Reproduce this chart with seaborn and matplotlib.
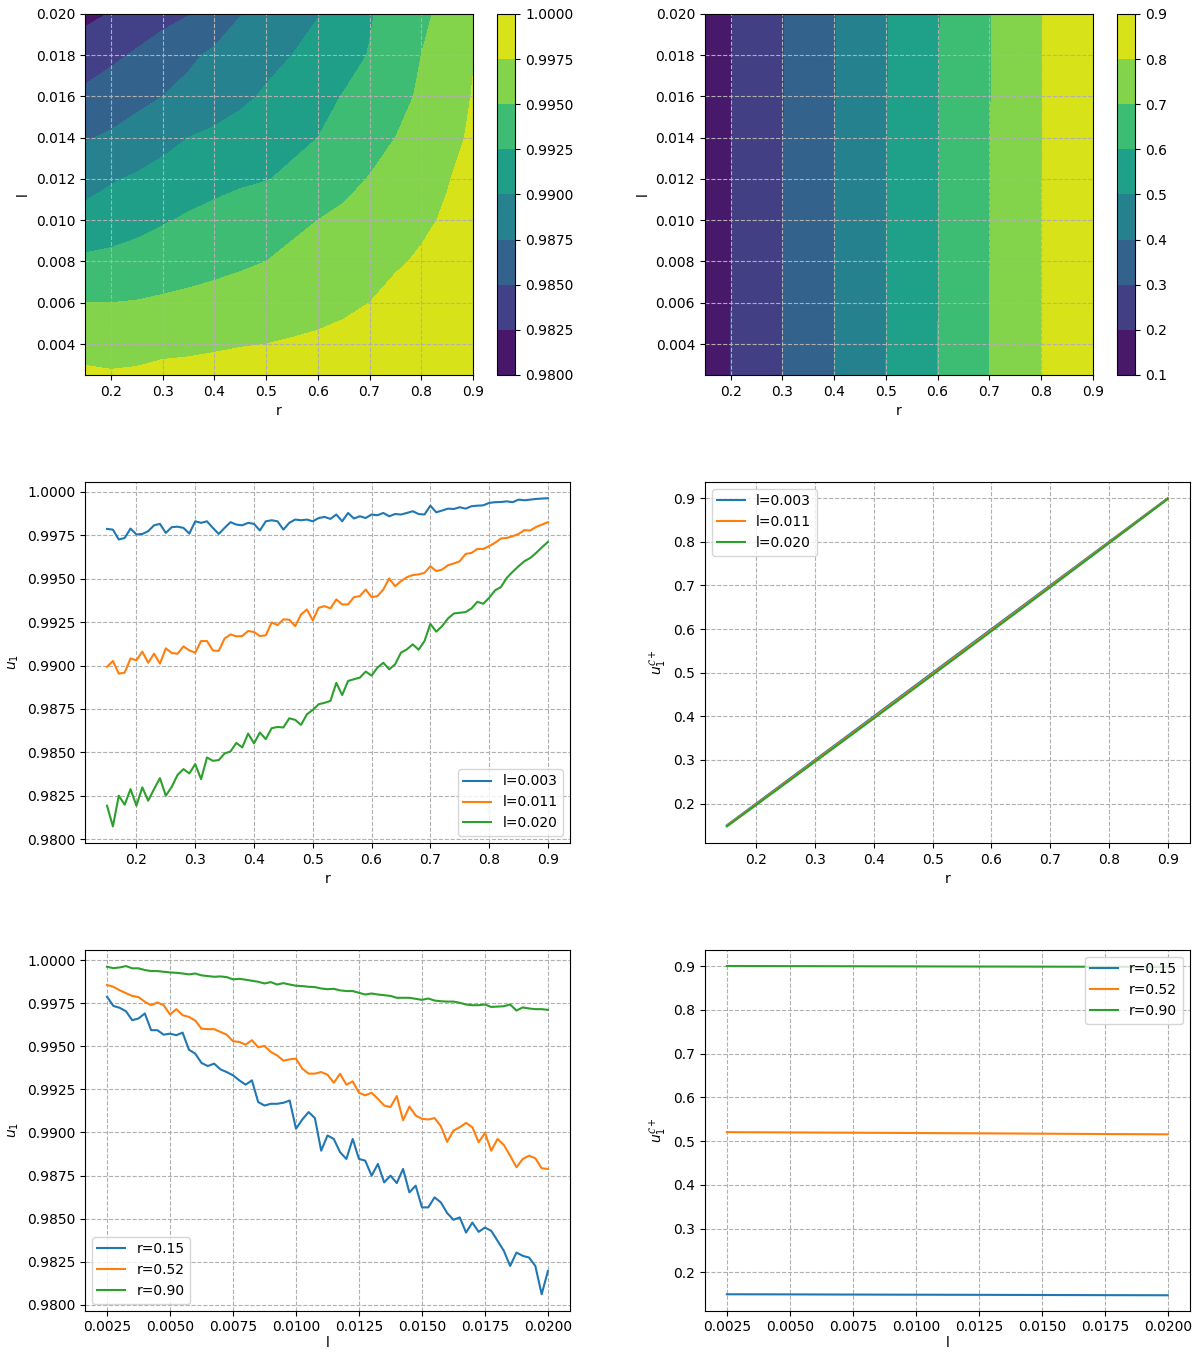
import numpy as np
import pandas as pd
import matplotlib
matplotlib.use("Agg")
import matplotlib.pyplot as plt
import seaborn as sns

# ---------------- data ----------------
# contour grid (top-left): u1 over (r, l)
r_grid = [0.15, 0.20, 0.25, 0.30, 0.35, 0.40, 0.45, 0.50, 0.55, 0.60,
          0.65, 0.70, 0.75, 0.80, 0.85, 0.90]
l_grid = [0.0025, 0.004, 0.006, 0.008, 0.010, 0.012, 0.014, 0.016, 0.018, 0.020]
u1_row_00250 = [0.9979, 0.9977, 0.9978, 0.9982, 0.9982, 0.9983, 0.9983, 0.9985, 0.9986, 0.9988, 0.9989, 0.9991, 0.9992, 0.9994, 0.9995, 0.9996]
u1_row_00400 = [0.9966, 0.9966, 0.9967, 0.9968, 0.9970, 0.9972, 0.9974, 0.9975, 0.9977, 0.9979, 0.9981, 0.9984, 0.9986, 0.9989, 0.9991, 0.9994]
u1_row_00600 = [0.9950, 0.9950, 0.9951, 0.9953, 0.9955, 0.9957, 0.9959, 0.9961, 0.9964, 0.9967, 0.9971, 0.9975, 0.9980, 0.9984, 0.9988, 0.9991]
u1_row_00800 = [0.9930, 0.9932, 0.9935, 0.9938, 0.9941, 0.9944, 0.9947, 0.9950, 0.9954, 0.9958, 0.9963, 0.9968, 0.9973, 0.9977, 0.9982, 0.9988]
u1_row_01000 = [0.9906, 0.9911, 0.9917, 0.9923, 0.9928, 0.9933, 0.9938, 0.9942, 0.9946, 0.9950, 0.9955, 0.9961, 0.9966, 0.9972, 0.9977, 0.9984]
u1_row_01200 = [0.9893, 0.9898, 0.9903, 0.9908, 0.9913, 0.9917, 0.9921, 0.9924, 0.9929, 0.9935, 0.9943, 0.9951, 0.9959, 0.9967, 0.9974, 0.9981]
u1_row_01400 = [0.9873, 0.9878, 0.9884, 0.9893, 0.9900, 0.9905, 0.9910, 0.9915, 0.9920, 0.9925, 0.9933, 0.9941, 0.9950, 0.9960, 0.9969, 0.9978]
u1_row_01600 = [0.9855, 0.9862, 0.9869, 0.9875, 0.9881, 0.9887, 0.9895, 0.9903, 0.9910, 0.9918, 0.9926, 0.9934, 0.9943, 0.9953, 0.9964, 0.9976]
u1_row_01800 = [0.9838, 0.9845, 0.9853, 0.9862, 0.9871, 0.9879, 0.9887, 0.9893, 0.9900, 0.9908, 0.9917, 0.9926, 0.9936, 0.9950, 0.9962, 0.9974]
u1_row_02000 = [0.9819, 0.9826, 0.9835, 0.9842, 0.9849, 0.9860, 0.9874, 0.9882, 0.9890, 0.9899, 0.9910, 0.9923, 0.9934, 0.9945, 0.9957, 0.9971]
u1_levels = [0.9800, 0.9825, 0.9850, 0.9875, 0.9900, 0.9925, 0.9950, 0.9975, 1.0000]

# u1^C+ versus r (middle-right) -- also used for the top-right contour
uc_r = r_grid
uc_l003 = [0.1500, 0.2000, 0.2500, 0.3000, 0.3500, 0.4000, 0.4500, 0.5000, 0.5500, 0.6000, 0.6500, 0.7000, 0.7500, 0.8000, 0.8500, 0.9000]
uc_l011 = [0.1488, 0.1984, 0.2481, 0.2979, 0.3477, 0.3976, 0.4475, 0.4975, 0.5475, 0.5976, 0.6477, 0.6979, 0.7481, 0.7984, 0.8488, 0.8991]
uc_l020 = [0.1475, 0.1968, 0.2463, 0.2958, 0.3455, 0.3952, 0.4450, 0.4950, 0.5450, 0.5952, 0.6455, 0.6958, 0.7463, 0.7968, 0.8475, 0.8982]
uc_contour_l = [0.0025, 0.011, 0.020]
uc_levels = [0.1, 0.2, 0.3, 0.4, 0.5, 0.6, 0.7, 0.8, 0.9]

# u1 versus r (middle-left), r = 0.15 .. 0.90 step 0.01
r_line = [round(0.15 + 0.01 * i, 2) for i in range(76)]
u1_l003 = [0.99787, 0.99783, 0.99726, 0.99735, 0.99789, 0.99755, 0.99758, 0.99774, 0.99808, 0.99816,
           0.99764, 0.99797, 0.99800, 0.99793, 0.99760, 0.99831, 0.99822, 0.99831, 0.99793, 0.99758,
           0.99793, 0.99826, 0.99812, 0.99808, 0.99822, 0.99816, 0.99778, 0.99831, 0.99837, 0.99831,
           0.99783, 0.99822, 0.99841, 0.99837, 0.99841, 0.99831, 0.99850, 0.99856, 0.99845, 0.99870,
           0.99831, 0.99879, 0.99847, 0.99860, 0.99850, 0.99870, 0.99866, 0.99879, 0.99860, 0.99873,
           0.99870, 0.99879, 0.99889, 0.99873, 0.99870, 0.99921, 0.99883, 0.99893, 0.99904, 0.99902,
           0.99912, 0.99904, 0.99918, 0.99921, 0.99923, 0.99937, 0.99941, 0.99942, 0.99946, 0.99941,
           0.99956, 0.99952, 0.99956, 0.99960, 0.99962, 0.99964]
u1_l011 = [0.98993, 0.99026, 0.98953, 0.98959, 0.99041, 0.99030, 0.99080, 0.99016, 0.99068, 0.99011,
           0.99099, 0.99072, 0.99068, 0.99110, 0.99087, 0.99074, 0.99141, 0.99141, 0.99087, 0.99084,
           0.99156, 0.99179, 0.99168, 0.99170, 0.99199, 0.99193, 0.99170, 0.99174, 0.99248, 0.99233,
           0.99266, 0.99264, 0.99227, 0.99294, 0.99323, 0.99260, 0.99333, 0.99342, 0.99329, 0.99381,
           0.99352, 0.99352, 0.99394, 0.99400, 0.99438, 0.99394, 0.99400, 0.99438, 0.99502, 0.99457,
           0.99486, 0.99509, 0.99521, 0.99525, 0.99534, 0.99572, 0.99544, 0.99553, 0.99578, 0.99588,
           0.99601, 0.99643, 0.99649, 0.99672, 0.99672, 0.99688, 0.99707, 0.99732, 0.99735, 0.99745,
           0.99758, 0.99780, 0.99778, 0.99799, 0.99812, 0.99826]
u1_l020 = [0.98192, 0.98073, 0.98250, 0.98198, 0.98288, 0.98192, 0.98298, 0.98221, 0.98288, 0.98351,
           0.98250, 0.98301, 0.98370, 0.98403, 0.98378, 0.98432, 0.98345, 0.98470, 0.98451, 0.98455,
           0.98493, 0.98505, 0.98554, 0.98528, 0.98608, 0.98551, 0.98614, 0.98576, 0.98639, 0.98646,
           0.98643, 0.98696, 0.98687, 0.98658, 0.98719, 0.98744, 0.98777, 0.98785, 0.98796, 0.98900,
           0.98830, 0.98911, 0.98921, 0.98930, 0.98965, 0.98942, 0.98988, 0.99016, 0.98978, 0.99007,
           0.99074, 0.99093, 0.99122, 0.99091, 0.99141, 0.99240, 0.99195, 0.99227, 0.99271, 0.99300,
           0.99304, 0.99308, 0.99329, 0.99367, 0.99356, 0.99390, 0.99433, 0.99452, 0.99505, 0.99540,
           0.99572, 0.99601, 0.99620, 0.99649, 0.99682, 0.99712]

# u1 versus l (bottom-left), l = 0.0025 .. 0.0200 step 0.00025
l_line = [round(0.0025 + 0.00025 * i, 5) for i in range(71)]
u1_r015 = [0.99787, 0.99734, 0.99723, 0.99703, 0.99651, 0.99661, 0.99690, 0.99593, 0.99593, 0.99567,
           0.99573, 0.99564, 0.99579, 0.99480, 0.99457, 0.99403, 0.99385, 0.99399, 0.99366, 0.99350,
           0.99331, 0.99302, 0.99277, 0.99302, 0.99176, 0.99156, 0.99166, 0.99166, 0.99172, 0.99185,
           0.99021, 0.99075, 0.99118, 0.99083, 0.98894, 0.98982, 0.98962, 0.98885, 0.98846, 0.98962,
           0.98846, 0.98836, 0.98749, 0.98817, 0.98710, 0.98749, 0.98706, 0.98788, 0.98652, 0.98691,
           0.98565, 0.98565, 0.98623, 0.98594, 0.98532, 0.98493, 0.98507, 0.98419, 0.98477, 0.98423,
           0.98448, 0.98429, 0.98371, 0.98313, 0.98225, 0.98303, 0.98284, 0.98274, 0.98225, 0.98061,
           0.98196]
u1_r052 = [0.99855, 0.99845, 0.99825, 0.99808, 0.99792, 0.99785, 0.99758, 0.99738, 0.99754, 0.99738,
           0.99684, 0.99715, 0.99680, 0.99670, 0.99649, 0.99602, 0.99599, 0.99599, 0.99583, 0.99567,
           0.99529, 0.99525, 0.99509, 0.99535, 0.99494, 0.99502, 0.99467, 0.99447, 0.99416, 0.99424,
           0.99428, 0.99370, 0.99341, 0.99341, 0.99350, 0.99335, 0.99288, 0.99340, 0.99277, 0.99296,
           0.99230, 0.99215, 0.99230, 0.99195, 0.99156, 0.99147, 0.99211, 0.99070, 0.99150, 0.99098,
           0.99079, 0.99075, 0.99083, 0.99036, 0.98945, 0.99011, 0.99030, 0.99055, 0.99030, 0.98943,
           0.98997, 0.98894, 0.98962, 0.98927, 0.98865, 0.98798, 0.98846, 0.98865, 0.98850, 0.98792,
           0.98788]
u1_r090 = [0.99961, 0.99953, 0.99957, 0.99965, 0.99952, 0.99952, 0.99942, 0.99936, 0.99936, 0.99932,
           0.99928, 0.99926, 0.99922, 0.99917, 0.99922, 0.99911, 0.99907, 0.99903, 0.99905, 0.99901,
           0.99888, 0.99891, 0.99886, 0.99880, 0.99874, 0.99864, 0.99872, 0.99858, 0.99866, 0.99858,
           0.99851, 0.99849, 0.99845, 0.99843, 0.99835, 0.99831, 0.99833, 0.99824, 0.99820, 0.99820,
           0.99810, 0.99800, 0.99806, 0.99800, 0.99796, 0.99792, 0.99781, 0.99781, 0.99781, 0.99775,
           0.99769, 0.99777, 0.99765, 0.99761, 0.99759, 0.99759, 0.99752, 0.99742, 0.99738, 0.99738,
           0.99742, 0.99728, 0.99730, 0.99732, 0.99742, 0.99707, 0.99725, 0.99719, 0.99715, 0.99715,
           0.99711]

# u1^C+ versus l (bottom-right)
ucl_l = [0.0025, 0.0050, 0.0075, 0.0100, 0.0125, 0.0150, 0.0175, 0.0200]
ucl_r015 = [0.1500, 0.1497, 0.1493, 0.1490, 0.1487, 0.1483, 0.1480, 0.1477]
ucl_r052 = [0.5205, 0.5198, 0.5192, 0.5185, 0.5178, 0.5170, 0.5162, 0.5155]
ucl_r090 = [0.9002, 0.8999, 0.8996, 0.8993, 0.8990, 0.8987, 0.8984, 0.8981]

# ---------------- figure ----------------
fig, axes = plt.subplots(3, 2, figsize=(11.97, 13.54), dpi=100)
fig.subplots_adjust(left=0.071, right=0.994, top=0.9897, bottom=0.032,
                    hspace=0.296, wspace=0.278)

# top-left contour
ax = axes[0, 0]
u1_field = np.array([u1_row_00250, u1_row_00400, u1_row_00600, u1_row_00800, u1_row_01000,
                     u1_row_01200, u1_row_01400, u1_row_01600, u1_row_01800, u1_row_02000])
cs = ax.contourf(r_grid, l_grid, u1_field, levels=u1_levels, cmap="viridis")
cb = fig.colorbar(cs, ax=ax)
cb.set_ticks(u1_levels)
ax.set_xlabel("r")
ax.set_ylabel("l")
ax.grid(True, linestyle="--")

# top-right contour
ax = axes[0, 1]
uc_field = np.array([uc_l003, uc_l011, uc_l020])
cs2 = ax.contourf(uc_r, uc_contour_l, uc_field, levels=uc_levels, cmap="viridis")
cb2 = fig.colorbar(cs2, ax=ax)
cb2.set_ticks(uc_levels)
ax.set_xlabel("r")
ax.set_ylabel("l")
ax.grid(True, linestyle="--")

colors = ["#1f77b4", "#ff7f0e", "#2ca02c"]

# middle-left
ax = axes[1, 0]
for vals, lab, c in zip([u1_l003, u1_l011, u1_l020], ["l=0.003", "l=0.011", "l=0.020"], colors):
    sns.lineplot(x=r_line, y=vals, ax=ax, color=c, label=lab)
ax.legend(loc="lower right")
ax.set_xlabel("r")
ax.set_ylabel(r"$u_1$")
ax.grid(True, linestyle="--")

# middle-right
ax = axes[1, 1]
for vals, lab, c in zip([uc_l003, uc_l011, uc_l020], ["l=0.003", "l=0.011", "l=0.020"], colors):
    sns.lineplot(x=uc_r, y=vals, ax=ax, color=c, label=lab)
ax.legend(loc="upper left")
ax.set_xlabel("r")
ax.set_ylabel(r"$u_1^{\mathcal{C}+}$")
ax.grid(True, linestyle="--")

# bottom-left
ax = axes[2, 0]
for vals, lab, c in zip([u1_r015, u1_r052, u1_r090], ["r=0.15", "r=0.52", "r=0.90"], colors):
    sns.lineplot(x=l_line, y=vals, ax=ax, color=c, label=lab)
ax.legend(loc="lower left")
ax.set_xlabel("l", labelpad=1)
ax.set_ylabel(r"$u_1$")
ax.grid(True, linestyle="--")

# bottom-right
ax = axes[2, 1]
for vals, lab, c in zip([ucl_r015, ucl_r052, ucl_r090], ["r=0.15", "r=0.52", "r=0.90"], colors):
    sns.lineplot(x=ucl_l, y=vals, ax=ax, color=c, label=lab)
ax.legend(loc="upper right")
ax.set_xlabel("l", labelpad=1)
ax.set_ylabel(r"$u_1^{\mathcal{C}+}$")
ax.set_ylim(0.1125, 0.9375)
ax.grid(True, linestyle="--")

fig.savefig("out.png", dpi=100)
